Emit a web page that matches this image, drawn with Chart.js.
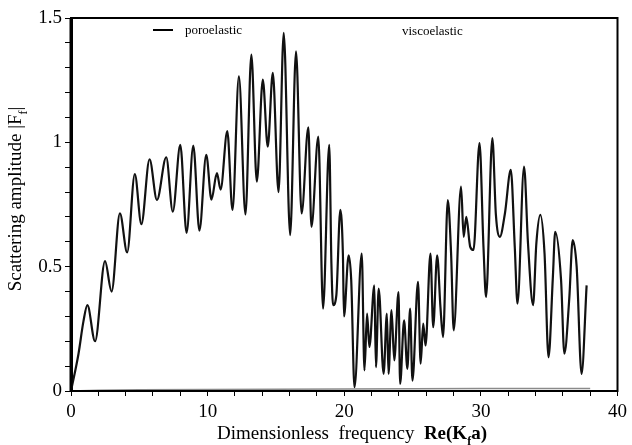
<!DOCTYPE html>
<html>
<head>
<meta charset="utf-8">
<script src="https://cdn.jsdelivr.net/npm/chart.js@4.4.0/dist/chart.umd.min.js"></script>
<style>
  html, body { margin: 0; padding: 0; background: #fff; }
  #wrap { width: 632px; height: 445px; position: relative; }
</style>
</head>
<body>
<div id="wrap"><canvas id="ampChart"></canvas></div>
<script>
// Poroelastic curve: peaks and troughs
const poroFreq = [
  0, 0.55, 0.91, 1.2, 1.76, 2.49, 2.97, 3.58, 4.11, 4.67, 5.15, 5.75, 6.29, 6.97, 7.45,
  8.0, 8.46, 8.95, 9.4, 9.9, 10.28, 10.68, 10.95, 11.44, 11.82, 12.29, 12.77, 13.2, 13.6,
  14.04, 14.4, 14.77, 15.19, 15.57, 16.04, 16.47, 16.88, 17.37, 17.6, 18.1, 18.45, 18.9,
  19.06, 19.18, 19.42, 19.71, 19.9, 19.98, 20.32, 20.51, 20.75, 21.28, 21.48, 21.67, 21.84,
  22.2, 22.32, 22.52, 22.88, 23.12, 23.24, 23.46, 23.66, 23.97, 24.09, 24.38, 24.62, 24.82,
  24.99, 25.4, 25.59, 25.78, 25.95, 26.31, 26.51, 26.8, 27.04, 27.23, 27.58, 27.82, 28.01,
  28.55, 28.74, 28.93, 29.22, 29.46, 29.9, 30.19, 30.38, 30.84, 31.1, 31.39, 31.76, 32.19,
  32.48, 32.68, 33.16, 33.45, 33.82, 34.06, 34.35, 34.66, 34.95, 35.27, 35.44, 35.87, 36.11,
  36.47, 36.72, 37.01, 37.37, 37.74
];
const poroAmp = [
  0, 0.15, 0.28, 0.345, 0.2, 0.522, 0.4, 0.714, 0.557, 0.872, 0.671, 0.932, 0.768, 0.94, 0.721,
  0.99, 0.636, 0.987, 0.645, 0.95, 0.77, 0.876, 0.81, 1.045, 0.728, 1.265, 0.71, 1.353, 0.842,
  1.252, 0.983, 1.279, 0.8, 1.44, 0.627, 1.366, 0.714, 1.06, 0.66, 1.023, 0.331, 0.99,
  0.513, 0.345, 0.385, 0.728, 0.553, 0.3, 0.546, 0.446, 0.015, 0.553, 0.083, 0.311, 0.177,
  0.425, 0.096, 0.412, 0.069, 0.311, 0.069, 0.325, 0.123, 0.398, 0.029, 0.284, 0.089, 0.331,
  0.042, 0.439, 0.11, 0.271, 0.183, 0.553, 0.257, 0.546, 0.338, 0.217, 0.768, 0.553, 0.244,
  0.822, 0.62, 0.7, 0.58, 0.567, 0.997, 0.58, 0.378, 1.017, 0.708, 0.62, 0.714, 0.889,
  0.58, 0.351, 0.902, 0.593, 0.345, 0.593, 0.708, 0.553, 0.136, 0.459, 0.64, 0.446, 0.15,
  0.372, 0.607, 0.5, 0.069, 0.425
];

// Viscoelastic curve sits almost on the axis
const viscoFreq = [0, 2, 5, 10, 15, 20, 25, 30, 35, 38];
const viscoAmp = [0, 0.003, 0.005, 0.006, 0.007, 0.008, 0.009, 0.01, 0.01, 0.01];

const xTickLabels = [0, 10, 20, 30, 40];
const yTickLabels = [0, 0.5, 1, 1.5];

const FONT = "'Liberation Serif', 'DejaVu Serif', serif";

function toPoints(xs, ys) {
  return xs.map((x, i) => ({ x: x, y: ys[i] }));
}

// draw a run of text pieces, some bold, some as subscripts
function drawRich(ctx, parts, size, cx, cy) {
  const fontOf = p => (p.bold ? 'bold ' : '') + (p.sub ? Math.round(size * 0.65) : size) + 'px ' + FONT;
  let total = 0;
  parts.forEach(p => {
    ctx.font = fontOf(p);
    total += ctx.measureText(p.t).width;
  });
  let x = cx - total / 2;
  parts.forEach(p => {
    ctx.font = fontOf(p);
    ctx.fillText(p.t, x, p.sub ? cy + size * 0.3 : cy);
    x += ctx.measureText(p.t).width;
  });
}

const decorPlugin = {
  id: 'decor',
  afterDraw(chart) {
    const { ctx, chartArea: a } = chart;
    ctx.save();
    // frame round the plot
    ctx.strokeStyle = '#000';
    ctx.lineWidth = 2;
    ctx.strokeRect(a.left, a.top, a.right - a.left, a.bottom - a.top);
    ctx.lineWidth = 3;
    ctx.beginPath();
    ctx.moveTo(a.left, a.top);
    ctx.lineTo(a.left, a.bottom);
    ctx.stroke();

    // legend labels inside the plot
    ctx.lineWidth = 2;
    ctx.beginPath();
    ctx.moveTo(153, 30);
    ctx.lineTo(173, 30);
    ctx.stroke();
    ctx.fillStyle = '#000';
    ctx.textBaseline = 'middle';
    ctx.textAlign = 'left';
    ctx.font = '13px ' + FONT;
    ctx.fillText('poroelastic', 185, 31);
    ctx.fillText('viscoelastic', 402, 32);

    // axis titles
    ctx.textBaseline = 'alphabetic';
    drawRich(ctx, [
      { t: 'Dimensionless  frequency  ' },
      { t: 'Re(K', bold: true }, { t: 'f', sub: true, bold: true }, { t: 'a)', bold: true }
    ], 19, 352, 439);

    ctx.translate(21, 199);
    ctx.rotate(-Math.PI / 2);
    drawRich(ctx, [
      { t: 'Scattering amplitude |F' }, { t: 'f', sub: true }, { t: '|' }
    ], 19, 0, 0);
    ctx.restore();
  }
};

new Chart(document.getElementById('ampChart').getContext('2d'), {
  type: 'line',
  data: {
    datasets: [
      {
        label: 'viscoelastic',
        data: toPoints(viscoFreq, viscoAmp),
        borderColor: '#8a8a8a',
        borderWidth: 1.5,
        pointRadius: 0,
        fill: false
      },
      {
        label: 'poroelastic',
        data: toPoints(poroFreq, poroAmp),
        borderColor: '#111',
        borderWidth: 2.2,
        pointRadius: 0,
        cubicInterpolationMode: 'monotone',
        fill: false
      }
    ]
  },
  options: {
    responsive: true,
    maintainAspectRatio: false,
    animation: false,
    events: [],
    layout: { padding: { top: 18, right: 10, left: 0, bottom: 0 } },
    plugins: {
      legend: { display: false },
      tooltip: { enabled: false }
    },
    scales: {
      x: {
        type: 'linear',
        min: 0,
        max: 40,
        afterFit: function(scale) { scale.height = 54; },
        border: { color: '#000', width: 2 },
        grid: { drawOnChartArea: false, drawTicks: true, tickLength: 5, color: '#000' },
        ticks: {
          stepSize: 2,
          autoSkip: false,
          maxRotation: 0,
          padding: 5,
          color: '#000',
          font: { family: FONT, size: 19 },
          callback: function(value) {
            return xTickLabels.includes(value) ? String(value) : '';
          }
        }
      },
      y: {
        min: 0,
        max: 1.5,
        afterFit: function(scale) { scale.width = 71; },
        border: { color: '#000', width: 3 },
        grid: { drawOnChartArea: false, drawTicks: true, tickLength: 6, color: '#000' },
        ticks: {
          stepSize: 0.1,
          autoSkip: false,
          padding: 3,
          color: '#000',
          font: { family: FONT, size: 19 },
          callback: function(value) {
            const hit = yTickLabels.find(t => Math.abs(t - value) < 1e-6);
            return hit === undefined ? '' : String(hit);
          }
        }
      }
    }
  },
  plugins: [decorPlugin]
});
</script>
</body>
</html>
